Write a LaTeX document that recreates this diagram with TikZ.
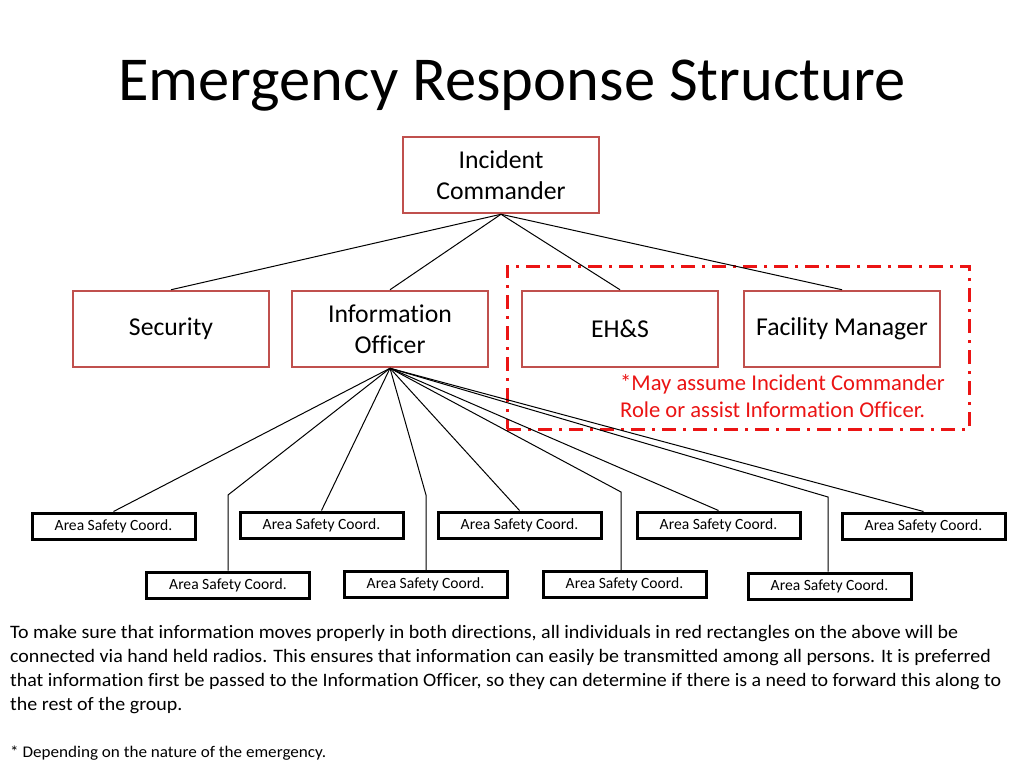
\documentclass[tikz,border=0pt]{standalone}
\usepackage{fontspec}
\setmainfont{Carlito}[Ligatures={NoCommon}]
\newfontfamily\parafont[FakeStretch=1.05,Ligatures={NoCommon}]{Carlito}
\definecolor{boxred}{RGB}{192,80,77}
\definecolor{dashred}{RGB}{235,20,20}
\begin{document}
\begin{tikzpicture}[x=1pt,y=-1pt,
  redbox/.style={draw=boxred,line width=2.5pt,minimum width=196pt,minimum height=76pt,inner sep=0pt,align=center,font=\fontsize{25.7}{31}\selectfont},
  areabox/.style={draw=black,line width=3pt,minimum width=163pt,minimum height=26pt,inner sep=0pt,text depth=0.2em,font=\fontsize{15.6}{17}\selectfont},
  conn/.style={draw=black,line width=1pt},
  group/.style={draw=dashred,line width=3pt,dash pattern=on 14pt off 7pt on 3pt off 7pt}]
\useasboundingbox[fill=white] (0,0) rectangle (1024,768);
\node[font=\fontsize{62.5}{72}\selectfont] (title) at (512,86) {Emergency Response Structure};
\node[redbox] (ic) at (501,175) {Incident\\Commander};
\node[redbox] (sec) at (171,329) {Security};
\node[redbox] (io) at (390,329) {Information\\Officer};
\node[redbox] (ehs) at (620,329) {EH\&S};
\node[redbox] (fm) at (842,329) {Facility Manager};
\node[group,minimum width=462pt,minimum height=163pt,inner sep=0pt] (grp) at (738,347.5) {};
\node[text=dashred,align=left,anchor=base west,inner sep=0pt,font=\fontsize{22.6}{27}\selectfont] (note) at (620,417) {*May assume Incident Commander\\Role or assist Information Officer.};
\draw[conn] (ic.south) -- (sec.north);
\draw[conn] (ic.south) -- (io.north);
\draw[conn] (ic.south) -- (ehs.north);
\draw[conn] (ic.south) -- (fm.north);
\node[areabox] (b1) at (113.5,526) {Area Safety Coord.};
\node[areabox] (b2) at (321.5,525) {Area Safety Coord.};
\node[areabox] (b3) at (519.5,525) {Area Safety Coord.};
\node[areabox] (b4) at (718.5,525) {Area Safety Coord.};
\node[areabox] (b5) at (923.5,526) {Area Safety Coord.};
\node[areabox] (c1) at (228,585) {Area Safety Coord.};
\node[areabox] (c2) at (425.5,584.5) {Area Safety Coord.};
\node[areabox] (c3) at (624.5,584.5) {Area Safety Coord.};
\node[areabox] (c4) at (829.5,586) {Area Safety Coord.};
\coordinate (k1) at (228,495);
\coordinate (k2) at (426,495);
\coordinate (k3) at (621,492);
\coordinate (k4) at (828,497);
\draw[conn] (io.south) -- (b1.north);
\draw[conn] (io.south) -- (k1) -- (k1 |- c1.north);
\draw[conn] (io.south) -- (b2.north);
\draw[conn] (io.south) -- (k2) -- (k2 |- c2.north);
\draw[conn] (io.south) -- (b3.north);
\draw[conn] (io.south) -- (k3) -- (k3 |- c3.north);
\draw[conn] (io.south) -- (b4.north);
\draw[conn] (io.south) -- (k4) -- (k4 |- c4.north);
\draw[conn] (io.south) -- (b5.north);
\node[anchor=base west,align=left,inner sep=0pt,font=\parafont\fontsize{19}{24}\selectfont] (para) at (10,710) {To make sure that information moves properly in both directions, all individuals in red rectangles on the above will be\\connected via hand held radios. This ensures that information can easily be transmitted among all persons. It is preferred\\that information first be passed to the Information Officer, so they can determine if there is a need to forward this along to\\the rest of the group.};
\node[anchor=base west,inner sep=0pt,font=\parafont\fontsize{16.3}{18}\selectfont] (foot) at (10,757) {* Depending on the nature of the emergency.};
\end{tikzpicture}
\end{document}
